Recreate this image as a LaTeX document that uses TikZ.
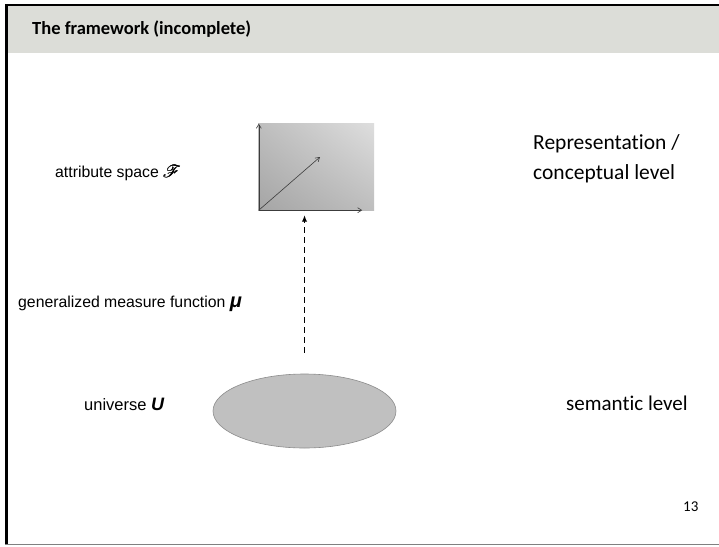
\documentclass[tikz,border=0pt]{standalone}
\usepackage{fontspec}
\setmainfont{Carlito}[Ligatures=NoCommon]
\newfontfamily\arialfont{Liberation Sans}
\usepackage{amsmath,mathrsfs,bm}
\usetikzlibrary{arrows.meta,shapes.geometric,shadings}
\definecolor{headgray}{RGB}{220,221,216}
\definecolor{ellfill}{RGB}{192,192,192}
\definecolor{elldraw}{RGB}{140,140,140}
\definecolor{rectdark}{RGB}{165,165,165}
\definecolor{rectmid}{RGB}{190,190,190}
\definecolor{rectlight}{RGB}{222,222,222}
\definecolor{axiscol}{RGB}{60,60,60}
\tikzset{
  sidelabel/.style={font=\arialfont\fontsize{15.8}{18}\selectfont, anchor=west, inner sep=0pt},
  levellabel/.style={font=\fontsize{21.5}{30}\selectfont, anchor=west, inner sep=0pt, align=left},
  axis/.style={draw=axiscol, line width=0.6pt, -{Straight Barb[length=4pt,width=5pt]}},
}
\begin{document}
\begin{tikzpicture}[x=1pt,y=-1pt]
\useasboundingbox (0,0) rectangle (719,546);
\fill[white] (0,0) rectangle (719,546);
% header band
\fill[headgray] (7,5) rectangle (719,53);
\draw[black, line width=2pt] (5,5) -- (719,5);
\draw[black, line width=3pt] (6.5,4) -- (6.5,544);
\draw[gray, line width=1.2pt] (5,544.5) -- (719,544.5);
\node[anchor=west, inner sep=0pt, font=\bfseries\fontsize{18.5}{22}\selectfont] (title) at (32,29) {The framework (incomplete)};

% attribute space rectangle
\node[draw=none, minimum width=116pt, minimum height=87pt, inner sep=0pt,
      lower left=rectdark, upper left=rectmid, lower right=rectmid, upper right=rectlight] (F) at (316,166.5) {};
\coordinate (o) at ([xshift=1pt]F.south west);
\coordinate (ytop) at ([xshift=1pt,yshift=-1pt]F.north west);
\coordinate (xend) at ([xshift=-12pt]F.south east);
\coordinate (diag) at (320,157);
\draw[axis] (o) -- (ytop);
\draw[axis] (o) -- (xend);
\draw[axis] (o) -- (diag);

% universe ellipse
\node[ellipse, draw=elldraw, fill=ellfill, line width=0.6pt, minimum width=183pt, minimum height=74pt, inner sep=0pt] (U) at (304.5,411) {};

% dashed arrow
\draw[black, line width=1.5pt, dash pattern=on 6pt off 4pt, -{Latex[length=6.5pt,width=5.5pt]},
      shorten <=21pt, shorten >=5pt] (U.north) -- (U.north |- F.south);

% labels
\node[sidelabel] (la) at (55,173) {attribute space {\fontsize{19}{20}\selectfont\pmb{$\mathscr{F}$}}};
\node[sidelabel] (lm) at (18,304) {generalized measure function {\fontsize{20}{20}\selectfont\textbf{\textit{μ}}}};
\node[sidelabel, font=\arialfont\fontsize{16.5}{18}\selectfont] (lu) at (84,404) {universe {\fontsize{18}{18}\selectfont\textbf{\textit{U}}}};
\node[levellabel] (lr) at (533,159) {Representation /\\conceptual level};
\node[levellabel, font=\fontsize{21}{30}\selectfont] (ls) at (566,403) {semantic level};
\node[anchor=west, inner sep=0pt, font=\fontsize{15}{17}\selectfont] (num) at (683,507) {13};
\end{tikzpicture}
\end{document}
